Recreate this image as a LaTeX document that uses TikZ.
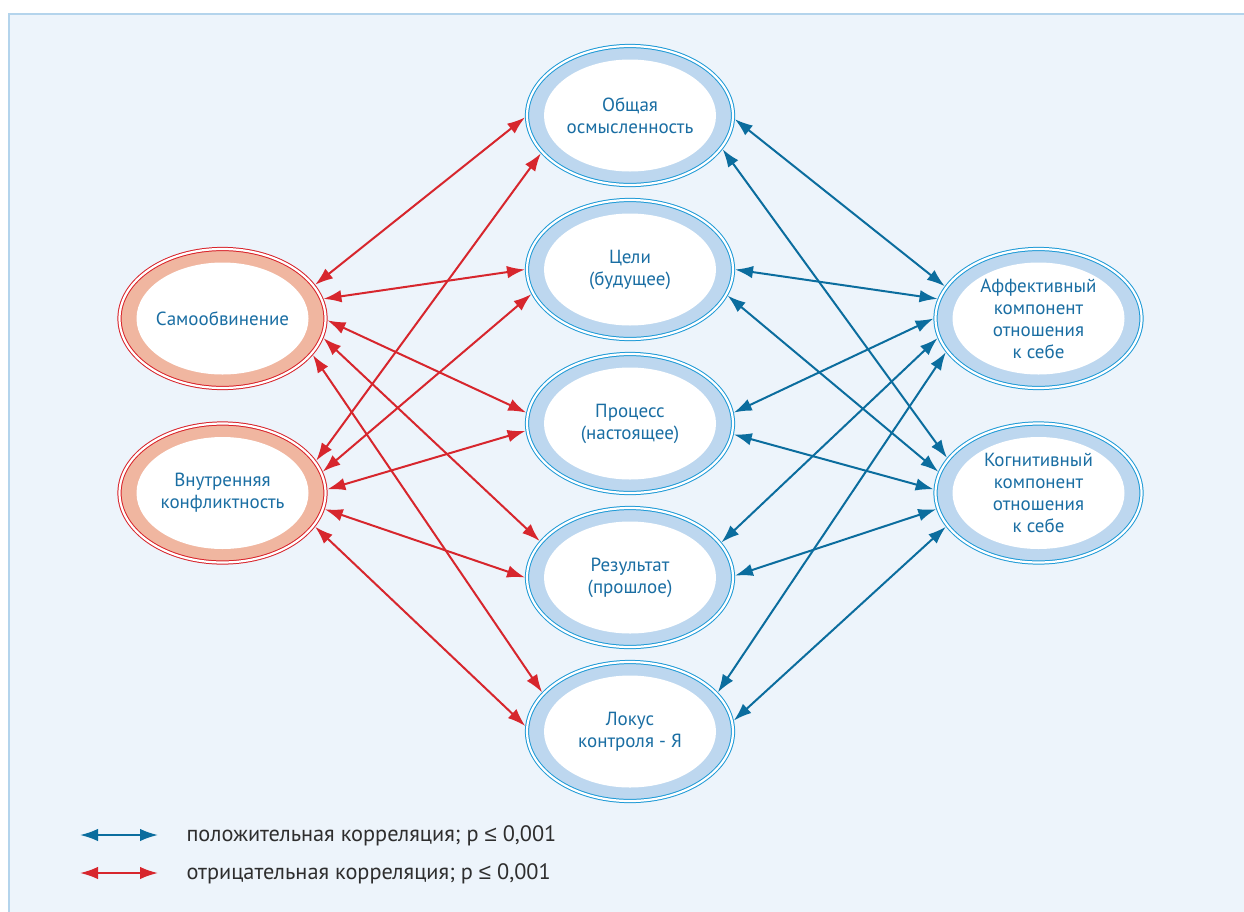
\documentclass[tikz,border=0pt]{standalone}
\usepackage{fontspec}
\setmainfont{PT Sans}
\newfontfamily\symfont{Liberation Sans}
\usetikzlibrary{shapes.geometric, arrows.meta}

\definecolor{panelfill}{HTML}{EDF4FB}
\definecolor{panelline}{HTML}{B4D4EC}
\definecolor{lineblue}{HTML}{1E9AD6}
\definecolor{bandblue}{HTML}{BDD7EF}
\definecolor{textblue}{HTML}{1A6EA3}
\definecolor{linered}{HTML}{D8232A}
\definecolor{bandred}{HTML}{F0B6A0}
\definecolor{arrowblue}{HTML}{0B6D9E}
\definecolor{arrowred}{HTML}{D7262D}
\definecolor{legendgray}{HTML}{2E2E2E}

\begin{document}
\begin{tikzpicture}[x=1pt, y=-1pt,
    >={Latex[length=18pt, width=12.5pt]},
    % --- Styles for the ellipses ---
    oval/.style={
        ellipse, draw=lineblue, line width=1pt, double=white, double distance=2.2pt,
        fill=bandblue, minimum width=206pt, minimum height=139pt,
        inner sep=0pt, outer sep=2pt, align=center, text=textblue,
        font=\fontsize{19}{22}\selectfont,
        path picture={\fill[white] (path picture bounding box.center)
            ellipse [x radius=86pt, y radius=56pt];}
    },
    ovalred/.style={oval, draw=linered, fill=bandred},
    % --- Styles for the connectors ---
    posarrow/.style={<->, line width=2pt, draw=arrowblue},
    negarrow/.style={<->, line width=2pt, draw=arrowred},
    legendtext/.style={anchor=west, text=legendgray, font=\fontsize{22.3}{26}\selectfont}
]
    \useasboundingbox (0,0) rectangle (1244,911);

    % --- Background panel ---
    \fill[panelfill] (8,13) rectangle (1250,920);
    \draw[panelline, line width=2pt] (9,920) -- (9,14) -- (1250,14);

    % --- Central scales ---
    \node[oval] (obsh)   at (630,115.5) {Общая\\осмысленность};
    \node[oval] (celi)   at (630,269.5) {Цели\\(будущее)};
    \node[oval] (proc)   at (630,423.5) {Процесс\\(настоящее)};
    \node[oval] (rez)    at (630,577.5) {Результат\\(прошлое)};
    \node[oval] (lokus)  at (630,731.5) {Локус\\контроля - Я};

    % --- Left scales ---
    \node[ovalred] (samo)  at (222.5,318.5) {Самообвинение};
    \node[ovalred] (vnutr) at (222.5,493) {Внутренняя\\конфликтность};

    % --- Right scales ---
    \node[oval] (affekt) at (1038.5,318.5) {Аффективный\\компонент\\отношения\\к себе};
    \node[oval] (kogn)   at (1038.5,493) {Когнитивный\\компонент\\отношения\\к себе};

    % --- Negative correlations ---
    \foreach \a/\aa/\b/\bb in {samo/20/obsh/181, samo/11/celi/180, samo/-1/proc/174,
        samo/-11/rez/158, samo/-22/lokus/156, vnutr/19/obsh/203, vnutr/12/celi/194,
        vnutr/2/proc/184, vnutr/-9/rez/180, vnutr/-20/lokus/177}
        \draw[negarrow] (\a.\aa) -- (\b.\bb);

    % --- Positive correlations ---
    \foreach \a/\aa/\b/\bb in {obsh/-2/affekt/161, celi/0/affekt/169, proc/6/affekt/180,
        rez/21/affekt/191, lokus/24/affekt/200, obsh/-20/kogn/159, celi/-15/kogn/168,
        proc/-6/kogn/178, rez/1/kogn/189, lokus/6/kogn/200}
        \draw[posarrow] (\a.\aa) -- (\b.\bb);

    % --- Legend ---
    \coordinate (posl) at (80,835);
    \coordinate (posr) at (158,835);
    \coordinate (negl) at (80,873);
    \coordinate (negr) at (158,873);
    \draw[posarrow] (posl) -- (posr);
    \draw[negarrow] (negl) -- (negr);
    \node[legendtext] (postext) at (183,836) {положительная корреляция; р {\symfont ≤} 0,001};
    \node[legendtext] (negtext) at (183,874) {отрицательная корреляция; р {\symfont ≤} 0,001};

\end{tikzpicture}
\end{document}
